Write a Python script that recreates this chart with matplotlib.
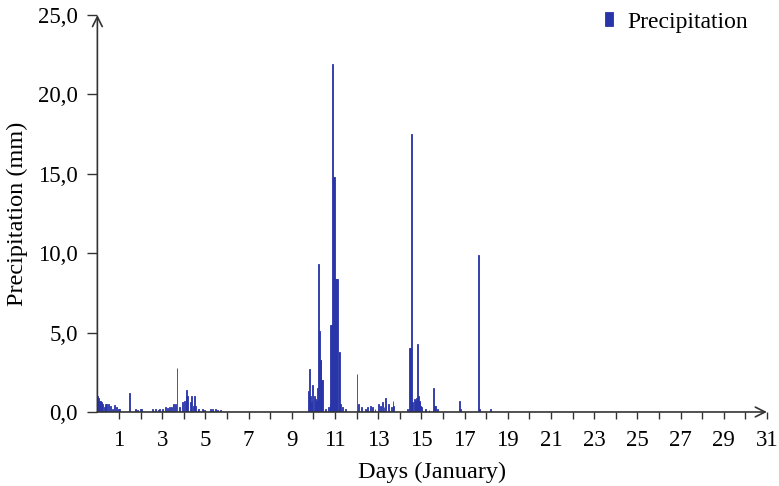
import numpy as np
import matplotlib
matplotlib.use("Agg")
from matplotlib import pyplot as plt
from matplotlib.ticker import FuncFormatter, FixedLocator

# hourly precipitation, January (hour index from 1 Jan 00:00, mm); other hours are 0
rain_hour = [0, 1, 2, 3, 4, 5, 7, 9, 10, 12, 14, 16, 19, 21, 23, 24,
             35, 42, 44, 47, 49, 61, 64, 67, 69, 72, 75, 77, 80, 82, 84, 86,
             88, 91, 94, 96, 98, 99, 100, 103, 104, 106, 107, 109, 112, 116,
             119, 125, 127, 131, 133, 136,
             234, 235, 236, 237, 239, 241, 242, 243, 244, 245, 246, 247, 248,
             249, 250, 253, 256, 258, 259, 260, 261, 262, 263, 264, 265, 266,
             268, 269, 270, 272, 275,
             288, 290, 293, 297, 300, 303, 305, 308, 312, 314, 316, 318, 320,
             323, 326, 328, 329,
             344, 346, 347, 348, 349, 350, 352, 353, 354, 355, 356, 357, 358,
             359, 360, 364, 368, 373, 374, 375, 377, 402, 403, 423, 424, 436]
rain_mm = [1.0, 0.9, 0.7, 0.7, 0.6, 0.5, 0.3, 0.5, 0.5, 0.5, 0.4, 0.2, 0.45, 0.3, 0.2, 0.2,
           1.2, 0.2, 0.15, 0.2, 0.2, 0.2, 0.2, 0.15, 0.2, 0.2, 0.3, 0.25, 0.3, 0.3, 0.5, 0.5,
           2.8, 0.3, 0.6, 0.7, 1.0, 1.4, 1.0, 0.6, 1.0, 0.4, 1.0, 0.4, 0.2, 0.2,
           0.1, 0.2, 0.2, 0.2, 0.15, 0.1,
           1.3, 2.7, 1.0, 0.6, 1.7, 1.0, 0.8, 0.7, 1.5, 9.3, 5.1, 3.3, 3.3,
           2.0, 2.0, 0.2, 0.3, 0.5, 5.5, 5.5, 21.9, 14.8, 14.8, 8.4, 8.4, 8.4,
           3.8, 3.8, 0.5, 0.3, 0.2,
           2.4, 0.5, 0.3, 0.2, 0.3, 0.4, 0.3, 0.2, 0.5, 0.4, 0.6, 0.3, 0.9,
           0.5, 0.3, 0.7, 0.4,
           0.2, 4.0, 4.0, 0.5, 17.5, 0.6, 0.8, 0.7, 0.9, 4.3, 1.0, 0.7, 0.6,
           0.4, 0.3, 0.2, 0.1, 1.5, 0.4, 0.4, 0.2, 0.7, 0.2, 9.9, 0.2, 0.2]

day_labels = list(range(1, 32, 2))
y_ticks = [0, 5, 10, 15, 20, 25]

plt.rcParams['font.family'] = ['Liberation Serif', 'DejaVu Serif']

fig = plt.figure(figsize=(7.79, 4.86), dpi=100)
ax = fig.add_axes([0.125, 0.1523, 0.8595, 0.8169])

bar_color = '#2834a8'
days = np.array(rain_hour) / 24.0
ax.bar(days, rain_mm, width=1 / 24.0, align='edge', color=bar_color,
       edgecolor=bar_color, linewidth=0.6, label='Precipitation')

ax.set_xlim(0, 31)
ax.set_ylim(0, 25)

for s in ['top', 'right', 'left', 'bottom']:
    ax.spines[s].set_visible(False)

axis_col = '#333333'
ax.annotate('', xy=(1.0, 0), xytext=(0, 0), xycoords='axes fraction',
            arrowprops=dict(arrowstyle='->,head_length=0.7,head_width=0.35',
                            color=axis_col, lw=1.2, shrinkA=0, shrinkB=0))
ax.annotate('', xy=(0, 1.0), xytext=(0, 0), xycoords='axes fraction',
            arrowprops=dict(arrowstyle='->,head_length=0.7,head_width=0.35',
                            color=axis_col, lw=1.2, shrinkA=0, shrinkB=0))

ax.xaxis.set_major_locator(FixedLocator(day_labels))
ax.xaxis.set_minor_locator(FixedLocator(list(range(2, 31, 2))))
ax.set_xticklabels([str(d) for d in day_labels])
ax.set_yticks(y_ticks)
ax.yaxis.set_major_formatter(FuncFormatter(lambda v, p: ('%.1f' % v).replace('.', ',')))
ax.tick_params(axis='x', which='both', direction='out', length=5, width=1,
               color=axis_col, labelsize=16.5, pad=8)
ax.tick_params(axis='y', direction='out', length=7, width=1,
               color=axis_col, labelsize=16.5, pad=7)

ax.set_xlabel('Days (January)', fontsize=17.5, labelpad=8)
ax.set_ylabel('Precipitation (mm)', fontsize=17.5, labelpad=7)

ax.legend(loc='upper right', bbox_to_anchor=(0.987, 1.02), bbox_transform=fig.transFigure,
          frameon=False, fontsize=17, handlelength=0.35, handleheight=0.55,
          handletextpad=0.6)

fig.savefig('out.png', dpi=100)
